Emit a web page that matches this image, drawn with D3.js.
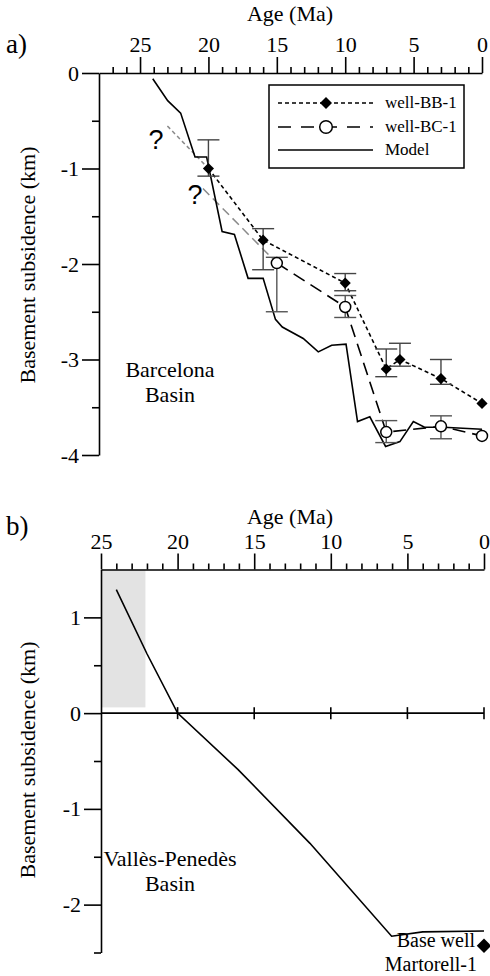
<!DOCTYPE html>
<html>
<head>
<meta charset="utf-8">
<script src="https://cdn.jsdelivr.net/npm/d3@7"></script>
<style>
  html, body { margin: 0; padding: 0; background: #fff; }
  svg { display: block; }
  svg text { font-family: "Liberation Serif", "DejaVu Serif", "Times New Roman", serif; }
  svg text.q { font-family: "Liberation Sans", Arial, sans-serif; }
</style>
</head>
<body>
<svg id="chart" width="490" height="976"></svg>
<script>
// ---- Barcelona Basin (panel a) ----
const bbAges   = [20, 16, 10, 7, 6, 3, 0];
const bbDepth  = [-1.0, -1.75, -2.2, -3.1, -3.0, -3.2, -3.46];
const bbErrTop = [-0.70, -1.63, -2.10, -2.89, -2.83, -3.00, null];
const bbErrBot = [-1.08, -2.06, -2.28, -3.18, -3.07, -3.26, null];
const bbGuessAges  = [23.0, 20];
const bbGuessDepth = [-0.555, -1.0];

const bcAges   = [15, 10, 7, 3, 0];
const bcDepth  = [-1.99, -2.45, -3.76, -3.70, -3.80];
const bcErrTop = [-1.93, -2.33, -3.64, -3.59, null];
const bcErrBot = [-2.50, -2.56, -3.87, -3.83, null];
const bcGuessAges  = [20.4, 15];
const bcGuessDepth = [-1.21, -1.99];

const modelAAges  = [24.07, 22.98, 22.03, 20.98, 20.13, 19.0, 18.1, 17.1, 16.0, 15.1, 14.6, 13.07, 11.97, 10.99, 9.94, 9.1, 8.2, 7.05, 6.0, 5.02, 4.2, 2.8, 0];
const modelADepth = [-0.06, -0.29, -0.42, -0.88, -0.88, -1.66, -1.69, -2.15, -2.15, -2.58, -2.66, -2.78, -2.92, -2.85, -2.84, -3.65, -3.60, -3.91, -3.86, -3.65, -3.71, -3.71, -3.73];

const ageTicksA   = [25, 20, 15, 10, 5, 0];
const depthTicksA = [0, -1, -2, -3, -4];

// ---- Vallès-Penedès Basin (panel b) ----
const modelBAges  = [24.0, 22.0, 20.0, 16.05, 11.36, 6.03, 4.0, 0];
const modelBDepth = [1.29, 0.62, 0.0, -0.59, -1.36, -2.33, -2.285, -2.275];
const shadeAges   = [25, 22.1];
const shadeDepth  = [1.5, 0.06];
const wellBAge    = [0];
const wellBDepth  = [-2.43];

const ageTicksB   = [25, 20, 15, 10, 5, 0];
const depthTicksB = [1, 0, -1, -2];

const svg = d3.select("#chart");
const FONT = 22;

function fmt(d) { return d < 0 ? "-" + Math.abs(d) : String(d); }

function drawAxes(g, x, y, majorX, minorX, majorY, minorY) {
  // top age axis, ticks pointing up
  g.append("g").attr("transform", `translate(0,${y.range()[0]})`)
    .call(d3.axisTop(x).tickValues(minorX).tickSize(6).tickFormat(""))
    .call(a => a.select(".domain").remove());
  g.append("g").attr("transform", `translate(0,${y.range()[0]})`)
    .call(d3.axisTop(x).tickValues(majorX).tickSize(16).tickSizeOuter(0).tickPadding(5).tickFormat(fmt));
  // left depth axis
  g.append("g").attr("transform", `translate(${x.range()[0]},0)`)
    .call(d3.axisLeft(y).tickValues(minorY).tickSize(7).tickFormat(""))
    .call(a => a.select(".domain").remove());
  g.append("g").attr("transform", `translate(${x.range()[0]},0)`)
    .call(d3.axisLeft(y).tickValues(majorY).tickSize(17).tickSizeOuter(0).tickPadding(3).tickFormat(fmt));
  g.selectAll("g").attr("font-family", null);
  g.selectAll(".domain, .tick line").attr("stroke", "#000").attr("stroke-width", 1.6);
  g.selectAll(".tick text").attr("font-size", FONT).attr("fill", "#000");
}

function text(g, x, y, s, opts = {}) {
  const t = g.append("text").attr("x", x).attr("y", y).text(s)
    .attr("font-size", opts.size || FONT)
    .attr("text-anchor", opts.anchor || "middle")
    .attr("fill", "#000");
  if (opts.cls) t.attr("class", opts.cls);
  return t;
}

function vlabel(g, cx, cy, s) {
  g.append("text").attr("transform", `translate(${cx},${cy}) rotate(-90)`)
    .attr("text-anchor", "middle").attr("font-size", FONT).text(s);
}

const diamond = d3.symbol().type(d3.symbolSquare);

// ================= Panel a =================
const xA = d3.scaleLinear().domain([28, 0]).range([99, 482]);
const yA = d3.scaleLinear().domain([0, -4]).range([73, 455]);
const gA = svg.append("g");

drawAxes(gA, xA, yA, ageTicksA, d3.range(1, 28).filter(v => v % 5 !== 0),
  depthTicksA, [-0.5, -1.5, -2.5, -3.5]);

text(gA, 6, 53, "a)", { size: 27, anchor: "start" });
text(gA, 290, 21, "Age (Ma)");
vlabel(gA, 35, 265, "Basement subsidence (km)");

const lineA = d3.line().x(d => xA(d[0])).y(d => yA(d[1]));
const zip = (a, b) => a.map((v, i) => [v, b[i]]);

// extrapolated (uncertain) segments
gA.append("path").attr("d", lineA(zip(bbGuessAges, bbGuessDepth)))
  .attr("fill", "none").attr("stroke", "#8a8a8a").attr("stroke-width", 1.5).attr("stroke-dasharray", "4,3");
gA.append("path").attr("d", lineA(zip(bcGuessAges, bcGuessDepth)))
  .attr("fill", "none").attr("stroke", "#8a8a8a").attr("stroke-width", 1.5).attr("stroke-dasharray", "9,5");

text(gA, 156, 149, "?", { size: 27, cls: "q" });
text(gA, 195, 204, "?", { size: 27, cls: "q" });

// model curve
gA.append("path").attr("d", lineA(zip(modelAAges, modelADepth)))
  .attr("fill", "none").attr("stroke", "#000").attr("stroke-width", 1.6);

// well curves
gA.append("path").attr("d", lineA(zip(bbAges, bbDepth)))
  .attr("fill", "none").attr("stroke", "#000").attr("stroke-width", 1.6).attr("stroke-dasharray", "4,3");
gA.append("path").attr("d", lineA(zip(bcAges, bcDepth)))
  .attr("fill", "none").attr("stroke", "#000").attr("stroke-width", 1.6).attr("stroke-dasharray", "13,7");

// error bars
function errorBars(g, ages, tops, bots, color) {
  ages.forEach((a, i) => {
    if (tops[i] === null) return;
    const cx = xA(a), cap = 11;
    const eg = g.append("g").attr("stroke", color).attr("stroke-width", 1.4);
    eg.append("line").attr("x1", cx).attr("x2", cx).attr("y1", yA(tops[i])).attr("y2", yA(bots[i]));
    eg.append("line").attr("x1", cx - cap).attr("x2", cx + cap).attr("y1", yA(tops[i])).attr("y2", yA(tops[i]));
    eg.append("line").attr("x1", cx - cap).attr("x2", cx + cap).attr("y1", yA(bots[i])).attr("y2", yA(bots[i]));
  });
}
errorBars(gA, bbAges, bbErrTop, bbErrBot, "#444");
errorBars(gA, bcAges, bcErrTop, bcErrBot, "#555");

// markers
gA.selectAll(".bb").data(zip(bbAges, bbDepth)).join("path")
  .attr("d", diamond.size(62)())
  .attr("transform", d => `translate(${xA(d[0])},${yA(d[1])}) rotate(45)`)
  .attr("fill", "#000");
gA.selectAll(".bc").data(zip(bcAges, bcDepth)).join("circle")
  .attr("cx", d => xA(d[0])).attr("cy", d => yA(d[1])).attr("r", 5.5)
  .attr("fill", "#fff").attr("stroke", "#000").attr("stroke-width", 1.5);

text(gA, 170, 377, "Barcelona");
text(gA, 170, 402, "Basin");

// legend
const lg = gA.append("g");
lg.append("rect").attr("x", 269).attr("y", 85).attr("width", 195).attr("height", 83)
  .attr("fill", "#fff").attr("stroke", "#000").attr("stroke-width", 1.5);
const legendRows = [
  { label: "well-BB-1", dash: "4,3", mark: "diamond", y: 103 },
  { label: "well-BC-1", dash: "13,10", mark: "circle", y: 127 },
  { label: "Model", dash: null, mark: null, y: 150 }
];
legendRows.forEach(r => {
  lg.append("line").attr("x1", 278).attr("x2", 373).attr("y1", r.y).attr("y2", r.y)
    .attr("stroke", "#000").attr("stroke-width", 1.5).attr("stroke-dasharray", r.dash);
  if (r.mark === "diamond") {
    lg.append("path").attr("d", diamond.size(72)())
      .attr("transform", `translate(326,${r.y}) rotate(45)`).attr("fill", "#000");
  } else if (r.mark === "circle") {
    lg.append("circle").attr("cx", 326).attr("cy", r.y).attr("r", 6.3)
      .attr("fill", "#fff").attr("stroke", "#000").attr("stroke-width", 1.5);
  }
  text(lg, 385, r.y + 5, r.label, { size: 17, anchor: "start" });
});

// ================= Panel b =================
const xB = d3.scaleLinear().domain([25, 0]).range([101, 484]);
const yB = d3.scaleLinear().domain([1.5, -2.5]).range([569.5, 952.5]);
const gB = svg.append("g");

gB.append("rect")
  .attr("x", xB(shadeAges[0])).attr("y", yB(shadeDepth[0]))
  .attr("width", xB(shadeAges[1]) - xB(shadeAges[0]))
  .attr("height", yB(shadeDepth[1]) - yB(shadeDepth[0]))
  .attr("fill", "#e3e3e3");

drawAxes(gB, xB, yB, ageTicksB, d3.range(1, 25).filter(v => v % 5 !== 0),
  depthTicksB, [0.5, -0.5, -1.5, -2.5]);

// zero line with crossing ticks
gB.append("line").attr("x1", xB(25)).attr("x2", xB(0)).attr("y1", yB(0)).attr("y2", yB(0))
  .attr("stroke", "#000").attr("stroke-width", 1.6);
gB.selectAll(".zt").data([20, 15, 10, 5, 0]).join("line")
  .attr("x1", d => xB(d)).attr("x2", d => xB(d))
  .attr("y1", yB(0) - 6).attr("y2", yB(0) + 6)
  .attr("stroke", "#000").attr("stroke-width", 1.6);

text(gB, 6, 535, "b)", { size: 27, anchor: "start" });
text(gB, 290, 524, "Age (Ma)");
vlabel(gB, 35, 760, "Basement subsidence (km)");

const lineB = d3.line().x(d => xB(d[0])).y(d => yB(d[1]));
gB.append("path").attr("d", lineB(zip(modelBAges, modelBDepth)))
  .attr("fill", "none").attr("stroke", "#000").attr("stroke-width", 1.6);

gB.selectAll(".wb").data(zip(wellBAge, wellBDepth)).join("path")
  .attr("d", diamond.size(105)())
  .attr("transform", d => `translate(${xB(d[0])},${yB(d[1])}) rotate(45)`)
  .attr("fill", "#000");

text(gB, 170, 866, "Vallès-Penedès");
text(gB, 170, 891, "Basin");

// two-line well label
text(gB, 475, 947, "Base well", { anchor: "end", size: 20 });
text(gB, 477, 971, "Martorell-1", { anchor: "end", size: 20 });
</script>
</body>
</html>
